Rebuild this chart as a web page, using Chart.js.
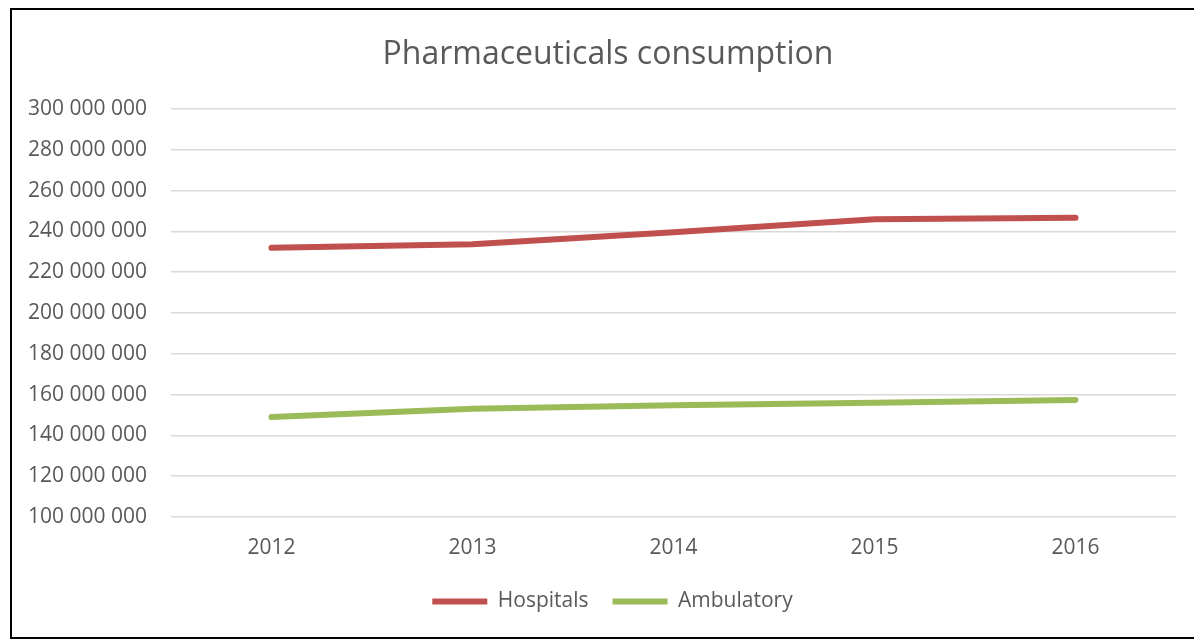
<!DOCTYPE html>
<html>
<head>
<meta charset="utf-8">
<title>Pharmaceuticals consumption</title>
<script src="https://cdn.jsdelivr.net/npm/chart.js@4"></script>
<style>
  html, body { margin: 0; padding: 0; background: #fff; }
  body { width: 1194px; height: 639px; position: relative; overflow: hidden; }
  #frame { position: absolute; left: 10px; top: 8px; width: 1200px; height: 627px; border: 2px solid #000; }
  #wrap { position: absolute; left: 0; top: 0; width: 1194px; height: 639px; }
</style>
</head>
<body>
<div id="frame"></div>
<div id="wrap"><canvas id="chart"></canvas></div>
<script>
  var YEARS = ['2012', '2013', '2014', '2015', '2016'];
  var HOSPITALS = [231900000, 233700000, 239600000, 245900000, 246600000];
  var AMBULATORY = [149000000, 153000000, 154800000, 156000000, 157400000];

  var TEXT = '#595959';
  var FONT = "'Open Sans', 'Noto Sans', sans-serif";

  function fmt(v) {
    return String(v).replace(/\B(?=(\d{3})+(?!\d))/g, ' ');
  }

  // title and legend sit centred on the framed box, not on the plot
  var shiftBlocks = {
    id: 'shiftBlocks',
    afterLayout: function (chart) {
      if (chart.titleBlock) chart.titleBlock.left += 40;
      if (chart.legend) chart.legend.left += 49;
    }
  };

  new Chart(document.getElementById('chart').getContext('2d'), {
    type: 'line',
    data: {
      labels: YEARS,
      datasets: [{
        label: 'Hospitals',
        data: HOSPITALS,
        borderColor: '#C0504D',
        backgroundColor: '#C0504D',
        borderWidth: 6,
        borderCapStyle: 'round',
        pointRadius: 0,
        tension: 0
      }, {
        label: 'Ambulatory',
        data: AMBULATORY,
        borderColor: '#9BBB59',
        backgroundColor: '#9BBB59',
        borderWidth: 6,
        borderCapStyle: 'round',
        pointRadius: 0,
        tension: 0
      }]
    },
    options: {
      responsive: true,
      maintainAspectRatio: false,
      animation: false,
      layout: { padding: { top: 0, left: 0, right: 18, bottom: 17 } },
      plugins: {
        tooltip: { enabled: false },
        title: {
          display: true,
          text: 'Pharmaceuticals consumption',
          color: TEXT,
          font: { family: FONT, size: 32, weight: 'normal' },
          padding: { top: 36, bottom: 34.5 }
        },
        legend: {
          position: 'bottom',
          labels: {
            color: TEXT,
            font: { family: FONT, size: 21 },
            usePointStyle: true,
            pointStyle: 'line',
            pointStyleWidth: 55,
            padding: 24
          }
        }
      },
      scales: {
        x: {
          offset: true,
          grid: { display: false, drawTicks: false },
          border: { display: false },
          ticks: { color: TEXT, font: { family: FONT, size: 21 }, padding: 18 },
          afterFit: function (s) { s.height = 50; }
        },
        y: {
          min: 100000000,
          max: 300000000,
          grid: { color: '#D9D9D9', lineWidth: 1.5, drawTicks: false },
          border: { display: false },
          ticks: {
            stepSize: 20000000,
            color: TEXT,
            font: { family: FONT, size: 21 },
            padding: 24,
            callback: function (v) { return fmt(v); }
          },
          afterFit: function (s) { s.width = 171; }
        }
      }
    },
    plugins: [shiftBlocks]
  });
</script>
</body>
</html>
